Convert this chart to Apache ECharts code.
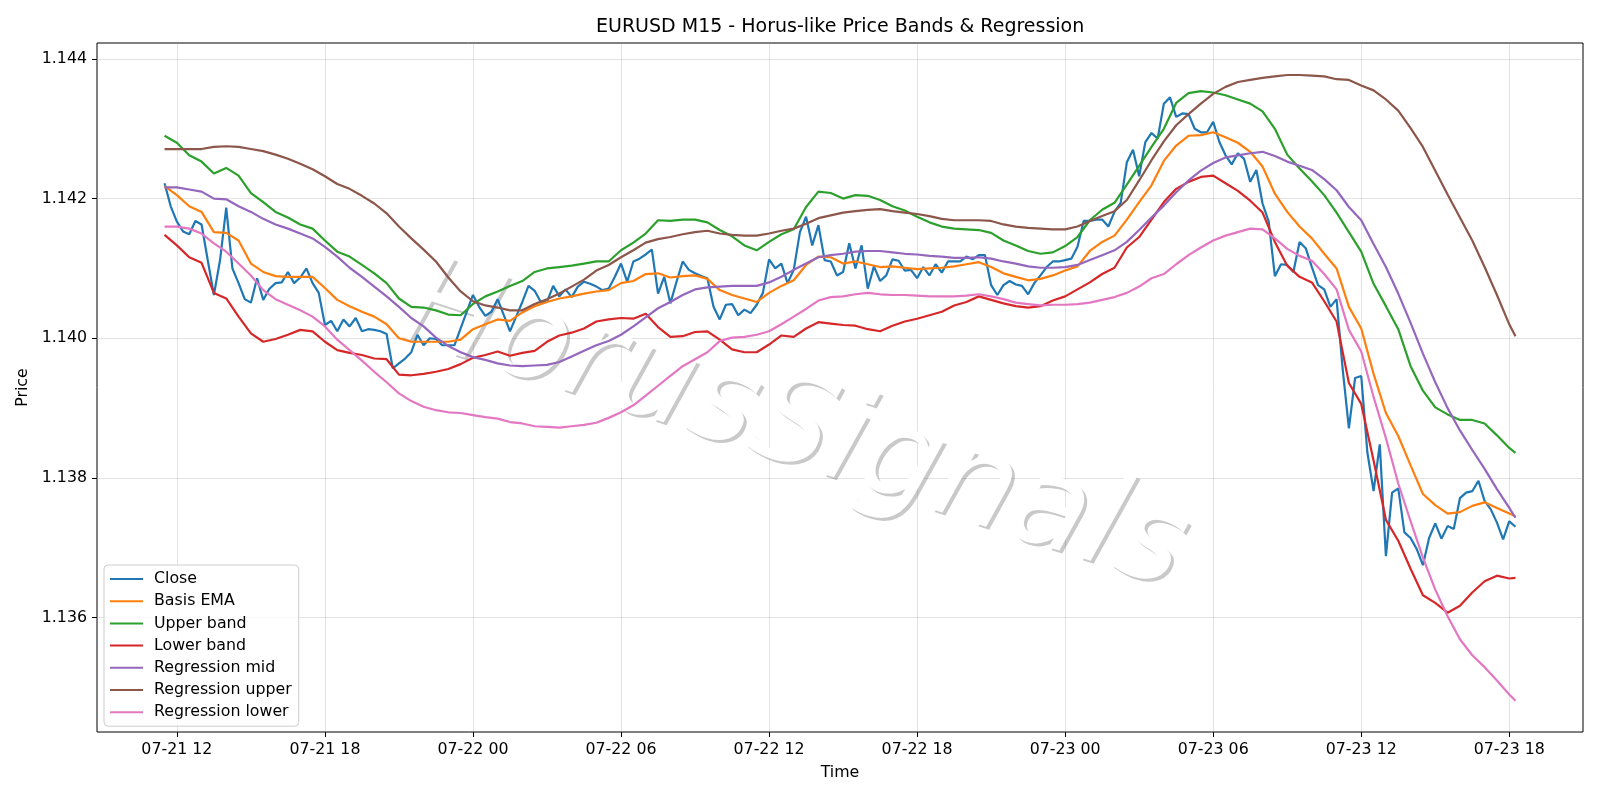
<!DOCTYPE html>
<html>
<head>
<meta charset="utf-8">
<script src="https://cdn.jsdelivr.net/npm/echarts@6/dist/echarts.min.js"></script>
<style>
html,body{margin:0;padding:0;background:#ffffff;}
#chart{width:1600px;height:800px;}
</style>
</head>
<body>
<div id="chart"></div>
<script>
// ---------------- DATA ----------------
// Time is expressed in hours since 2025-07-21 00:00 (M15 bars).
const closeStartHour = 11.5;   // 07-21 11:30
const closeStepHours = 0.25;   // 15 minutes
// Close, every 15 minutes from 07-21 11:30 to 07-23 18:15
const closeValues = [
  // 07-21 11:30 .. 23:45
  1.14222,1.14189,1.14167,1.14153,1.14149,1.14168,1.14163,1.14112,1.14062,1.14112,
  1.14187,1.14100,1.14079,1.14056,1.14051,1.14086,1.14055,1.14071,1.14079,1.14080,
  1.14095,1.14079,1.14087,1.14100,1.14079,1.14065,1.14019,1.14025,1.14010,1.14027,
  1.14017,1.14029,1.14010,1.14013,1.14012,1.14010,1.14006,1.13957,1.13964,1.13971,
  1.13980,1.14005,1.13990,1.14000,1.13999,1.13990,1.13990,1.13990,1.14014,1.14038,
  // 07-22 00:00 .. 23:45
  1.14062,1.14045,1.14032,1.14038,1.14056,1.14033,1.14010,1.14031,1.14052,1.14075,
  1.14068,1.14052,1.14052,1.14075,1.14060,1.14070,1.14059,1.14074,1.14081,1.14078,
  1.14074,1.14069,1.14071,1.14088,1.14107,1.14081,1.14110,1.14114,1.14120,1.14127,
  1.14064,1.14088,1.14050,1.14081,1.14110,1.14098,1.14093,1.14089,1.14086,1.14045,
  1.14027,1.14048,1.14049,1.14033,1.14041,1.14036,1.14048,1.14065,1.14113,1.14100,
  1.14107,1.14079,1.14098,1.14152,1.14174,1.14133,1.14162,1.14112,1.14110,1.14090,
  1.14095,1.14136,1.14100,1.14133,1.14071,1.14103,1.14082,1.14090,1.14113,1.14111,
  1.14097,1.14098,1.14086,1.14102,1.14090,1.14106,1.14094,1.14110,1.14110,1.14110,
  1.14117,1.14113,1.14119,1.14119,1.14076,1.14062,1.14076,1.14082,1.14077,1.14075,
  1.14063,1.14079,1.14090,1.14102,1.14110,1.14110,
  // 07-23 00:00 .. 18:15
  1.14112,1.14114,1.14131,1.14168,1.14168,1.14170,1.14170,1.14160,1.14181,1.14194,
  1.14252,1.14270,1.14232,1.14281,1.14294,1.14286,1.14336,1.14345,1.14317,1.14322,
  1.14321,1.14300,1.14295,1.14295,1.14310,1.14281,1.14262,1.14249,1.14265,1.14257,
  1.14224,1.14241,1.14193,1.14167,1.14089,1.14106,1.14105,1.14095,1.14138,1.14129,
  1.14102,1.14076,1.14070,1.14045,1.14056,1.13955,1.13871,1.13943,1.13946,1.13836,
  1.13781,1.13848,1.13688,1.13779,1.13785,1.13722,1.13714,1.13698,1.13675,1.13714,
  1.13735,1.13713,1.13731,1.13727,1.13771,1.13779,1.13781,1.13796,1.13767,1.13755,
  1.13736,1.13712,1.13738,1.13730
];

// Bands and regression lines, read every 30 minutes (07-21 11:30 .. 07-23 18:00) plus the last bar 18:15
const bandStartHour = 11.5;
const bandStepHours = 0.5;
const bandLastHour = 66.25;

const emaValues = [
  1.14218,1.14205,1.14189,1.14181,1.14152,1.14151,1.14140,1.14107,1.14095,1.14089,
  1.14088,1.14088,1.14088,1.14072,1.14055,1.14046,1.14038,1.14031,1.14020,1.14000,
  1.13995,1.13995,1.13995,1.13995,1.13998,
  1.14013,1.14020,1.14027,1.14025,1.14037,1.14046,1.14052,1.14057,1.14060,1.14064,
  1.14067,1.14069,1.14079,1.14082,1.14092,1.14093,1.14087,1.14089,1.14090,1.14085,
  1.14069,1.14062,1.14057,1.14052,1.14065,1.14075,1.14083,1.14105,1.14117,1.14116,
  1.14107,1.14110,1.14106,1.14102,1.14103,1.14101,1.14099,1.14100,1.14101,1.14103,
  1.14106,1.14109,1.14102,1.14093,1.14088,1.14083,1.14085,1.14090,
  1.14097,1.14103,1.14125,1.14138,1.14147,1.14170,1.14195,1.14219,1.14254,1.14276,
  1.14290,1.14291,1.14295,1.14288,1.14280,1.14267,1.14246,1.14207,1.14181,1.14160,
  1.14143,1.14121,1.14100,1.14045,1.14014,1.13949,1.13893,1.13860,1.13818,1.13777,
  1.13761,1.13749,1.13751,1.13760,1.13765,1.13757,1.13749,1.13745
];

const upperValues = [
  1.14290,1.14280,1.14262,1.14253,1.14236,1.14244,1.14233,1.14208,1.14195,1.14181,
  1.14173,1.14163,1.14157,1.14140,1.14124,1.14117,1.14105,1.14093,1.14079,1.14057,
  1.14045,1.14044,1.14040,1.14034,1.14033,
  1.14049,1.14060,1.14067,1.14075,1.14082,1.14095,1.14100,1.14102,1.14104,1.14107,
  1.14110,1.14110,1.14126,1.14137,1.14150,1.14169,1.14168,1.14170,1.14170,1.14166,
  1.14155,1.14146,1.14133,1.14126,1.14138,1.14149,1.14156,1.14188,1.14210,1.14208,
  1.14200,1.14205,1.14204,1.14198,1.14189,1.14183,1.14174,1.14166,1.14160,1.14157,
  1.14156,1.14155,1.14151,1.14140,1.14133,1.14125,1.14121,1.14123,
  1.14132,1.14145,1.14169,1.14184,1.14194,1.14220,1.14247,1.14274,1.14300,1.14337,
  1.14351,1.14354,1.14352,1.14348,1.14342,1.14336,1.14325,1.14300,1.14263,1.14243,
  1.14225,1.14205,1.14180,1.14152,1.14124,1.14078,1.14046,1.14013,1.13960,1.13925,
  1.13901,1.13891,1.13883,1.13883,1.13878,1.13861,1.13843,1.13836
];

const lowerValues = [
  1.14148,1.14133,1.14116,1.14108,1.14065,1.14057,1.14031,1.14007,1.13995,1.13999,
  1.14005,1.14012,1.14010,1.13995,1.13983,1.13979,1.13976,1.13971,1.13970,1.13948,
  1.13947,1.13949,1.13952,1.13956,1.13963,
  1.13972,1.13976,1.13981,1.13975,1.13979,1.13982,1.13995,1.14004,1.14008,1.14014,
  1.14024,1.14027,1.14029,1.14028,1.14035,1.14016,1.14002,1.14003,1.14009,1.14010,
  1.13998,1.13984,1.13980,1.13980,1.13991,1.14004,1.14002,1.14014,1.14023,1.14021,
  1.14019,1.14018,1.14013,1.14010,1.14018,1.14024,1.14028,1.14033,1.14038,1.14047,
  1.14052,1.14060,1.14055,1.14050,1.14046,1.14044,1.14046,1.14054,
  1.14060,1.14070,1.14080,1.14092,1.14101,1.14130,1.14145,1.14170,1.14195,1.14214,
  1.14224,1.14231,1.14233,1.14222,1.14211,1.14197,1.14180,1.14138,1.14104,1.14088,
  1.14080,1.14053,1.14024,1.13936,1.13906,1.13825,1.13740,1.13710,1.13670,1.13632,
  1.13621,1.13607,1.13617,1.13636,1.13652,1.13660,1.13656,1.13657
];

const regMidValues = [
  1.14216,1.14216,1.14213,1.14210,1.14200,1.14199,1.14189,1.14181,1.14171,1.14163,
  1.14157,1.14150,1.14143,1.14131,1.14117,1.14101,1.14088,1.14074,1.14060,1.14045,
  1.14029,1.14017,1.14001,1.13989,1.13980,
  1.13973,1.13969,1.13964,1.13961,1.13960,1.13961,1.13962,1.13966,1.13974,1.13982,
  1.13990,1.13996,1.14005,1.14017,1.14030,1.14043,1.14052,1.14062,1.14070,1.14073,
  1.14074,1.14075,1.14075,1.14075,1.14080,1.14088,1.14098,1.14107,1.14116,1.14119,
  1.14121,1.14124,1.14125,1.14125,1.14123,1.14121,1.14120,1.14118,1.14117,1.14115,
  1.14115,1.14116,1.14114,1.14110,1.14107,1.14103,1.14101,1.14101,
  1.14102,1.14105,1.14112,1.14119,1.14126,1.14138,1.14155,1.14173,1.14190,1.14209,
  1.14226,1.14240,1.14251,1.14259,1.14262,1.14265,1.14267,1.14261,1.14253,1.14247,
  1.14241,1.14228,1.14212,1.14188,1.14169,1.14135,1.14102,1.14064,1.14022,1.13978,
  1.13937,1.13900,1.13868,1.13840,1.13813,1.13784,1.13757,1.13743
];

const regUpperValues = [
  1.14271,1.14271,1.14271,1.14271,1.14274,1.14275,1.14274,1.14271,1.14268,1.14263,
  1.14257,1.14250,1.14242,1.14232,1.14221,1.14214,1.14204,1.14193,1.14179,1.14160,
  1.14143,1.14127,1.14110,1.14087,1.14067,
  1.14053,1.14047,1.14044,1.14040,1.14040,1.14049,1.14056,1.14064,1.14074,1.14084,
  1.14097,1.14105,1.14116,1.14126,1.14137,1.14142,1.14145,1.14149,1.14152,1.14154,
  1.14150,1.14148,1.14147,1.14147,1.14150,1.14154,1.14157,1.14164,1.14172,1.14176,
  1.14180,1.14182,1.14184,1.14185,1.14182,1.14180,1.14178,1.14175,1.14171,1.14169,
  1.14169,1.14169,1.14168,1.14163,1.14160,1.14158,1.14157,1.14156,
  1.14156,1.14160,1.14168,1.14175,1.14182,1.14198,1.14226,1.14255,1.14282,1.14305,
  1.14321,1.14336,1.14350,1.14360,1.14367,1.14370,1.14373,1.14375,1.14377,1.14377,
  1.14376,1.14375,1.14371,1.14370,1.14362,1.14355,1.14342,1.14326,1.14301,1.14274,
  1.14240,1.14206,1.14173,1.14140,1.14102,1.14062,1.14020,1.14003
];

const regLowerValues = [
  1.14160,1.14160,1.14157,1.14150,1.14136,1.14124,1.14107,1.14090,1.14069,1.14056,
  1.14048,1.14040,1.14031,1.14017,1.13998,1.13983,1.13968,1.13952,1.13937,1.13921,
  1.13910,1.13902,1.13897,1.13894,1.13893,
  1.13890,1.13887,1.13885,1.13880,1.13878,1.13874,1.13873,1.13872,1.13874,1.13876,
  1.13879,1.13886,1.13894,1.13904,1.13918,1.13932,1.13946,1.13960,1.13970,1.13980,
  1.13996,1.14001,1.14002,1.14005,1.14010,1.14020,1.14031,1.14042,1.14054,1.14059,
  1.14060,1.14063,1.14065,1.14063,1.14062,1.14062,1.14061,1.14060,1.14060,1.14060,
  1.14061,1.14063,1.14060,1.14056,1.14051,1.14049,1.14047,1.14048,
  1.14048,1.14049,1.14051,1.14055,1.14059,1.14065,1.14074,1.14086,1.14092,1.14106,
  1.14119,1.14130,1.14140,1.14147,1.14152,1.14157,1.14156,1.14143,1.14128,1.14118,
  1.14111,1.14092,1.14070,1.14012,1.13981,1.13916,1.13857,1.13792,1.13738,1.13686,
  1.13640,1.13602,1.13569,1.13546,1.13529,1.13510,1.13490,1.13481
];

const seriesNames = ['Close','Basis EMA','Upper band','Lower band','Regression mid','Regression upper','Regression lower'];
const seriesColors = ['#1f77b4','#ff7f0e','#2ca02c','#d62728','#9467bd','#8c564b','#e377c2'];

const xTickHours  = [12, 18, 24, 30, 36, 42, 48, 54, 60, 66];
const xTickLabels = ['07-21 12','07-21 18','07-22 00','07-22 06','07-22 12','07-22 18','07-23 00','07-23 06','07-23 12','07-23 18'];
const yTickValues = [1.136, 1.138, 1.140, 1.142, 1.144];

const titleText = 'EURUSD M15 - Horus-like Price Bands & Regression';
const watermarkText = 'HorusSignals';

// ---------------- BUILD ----------------
const closeTimes = closeValues.map((_, i) => closeStartHour + i * closeStepHours);
const bandTimes = emaValues.map((_, i) => i === emaValues.length - 1 ? bandLastHour : bandStartHour + i * bandStepHours);

const pairs = (times, vals) => vals.map((v, i) => [times[i], v]);
const allValues = [closeValues, emaValues, upperValues, lowerValues, regMidValues, regUpperValues, regLowerValues];
const allTimes  = [closeTimes, bandTimes, bandTimes, bandTimes, bandTimes, bandTimes, bandTimes];

// matplotlib-like 5% margins
const xDataMin = closeTimes[0], xDataMax = closeTimes[closeTimes.length - 1];
const xPad = (xDataMax - xDataMin) * 0.05;
const yDataMin = 1.13481, yDataMax = 1.14378;
const yPad = (yDataMax - yDataMin) * 0.05;

const FONT = '"DejaVu Sans", "Liberation Sans", sans-serif';
const FS = 15.8;
const chart = echarts.init(document.getElementById('chart'), null, {renderer: 'canvas'});

const labelOf = h => { const k = xTickHours.indexOf(Math.round(h)); return k >= 0 ? xTickLabels[k] : ''; };
const WM_ROT = -18 * Math.PI / 180;
const WM_X = 793, WM_Y = 430, WM_SIZE = 125;

const option = {
  animation: false,
  backgroundColor: '#ffffff',
  textStyle: {fontFamily: FONT},
  title: {
    text: titleText,
    left: 596, top: 18, padding: 0,
    textStyle: {fontFamily: FONT, fontSize: 19, fontWeight: 'normal', color: '#000'}
  },
  grid: {
    left: 97, top: 43, right: 17, bottom: 68,
    show: true, borderColor: '#000', borderWidth: 1, backgroundColor: 'transparent',
    containLabel: false
  },
  legend: {
    orient: 'vertical',
    left: 104, top: 565,
    padding: [5, 7, 5, 6],
    itemGap: 4.2,
    itemWidth: 33, itemHeight: 2,
    icon: 'rect',
    backgroundColor: 'rgba(255,255,255,0.8)',
    borderColor: '#cccccc', borderWidth: 1, borderRadius: 4,
    textStyle: {fontFamily: FONT, fontSize: FS, color: '#000', lineHeight: 18, padding: [0, 0, 0, 6]},
    data: seriesNames
  },
  xAxis: {
    type: 'value',
    min: xDataMin - xPad, max: xDataMax + xPad,
    name: 'Time', nameLocation: 'middle', nameGap: 33,
    nameTextStyle: {fontFamily: FONT, fontSize: FS, color: '#000'},
    axisLine: {show: false},
    axisTick: {show: true, length: 5, lineStyle: {color: '#000', width: 1}, customValues: xTickHours},
    axisLabel: {color: '#000', fontFamily: FONT, fontSize: FS, margin: 10, customValues: xTickHours, formatter: labelOf},
    splitLine: {show: true, lineStyle: {color: 'rgba(176,176,176,0.35)', width: 1}}
  },
  yAxis: {
    type: 'value',
    min: yDataMin - yPad, max: yDataMax + yPad,
    name: 'Price', nameLocation: 'middle', nameGap: 57,
    nameTextStyle: {fontFamily: FONT, fontSize: FS, color: '#000'},
    axisLine: {show: false},
    axisTick: {show: true, length: 5, lineStyle: {color: '#000', width: 1}, customValues: yTickValues},
    axisLabel: {color: '#000', fontFamily: FONT, fontSize: FS, margin: 10, customValues: yTickValues, formatter: v => v.toFixed(3)},
    splitLine: {show: true, lineStyle: {color: 'rgba(176,176,176,0.35)', width: 1}}
  },
  graphic: [
    {
      type: 'text', x: WM_X + 3, y: WM_Y + 3, rotation: WM_ROT, z: 1, silent: true,
      style: {text: watermarkText, fontFamily: FONT, fontSize: WM_SIZE, fontStyle: 'italic',
              fill: 'rgba(77,77,77,0.3)', align: 'center', verticalAlign: 'middle'}
    },
    {
      type: 'text', x: WM_X, y: WM_Y, rotation: WM_ROT, z: 1, silent: true,
      style: {text: watermarkText, fontFamily: FONT, fontSize: WM_SIZE, fontStyle: 'italic',
              fill: '#ffffff', align: 'center', verticalAlign: 'middle'}
    }
  ],
  series: seriesNames.map((name, k) => ({
    name: name,
    type: 'line',
    z: 3,
    showSymbol: false,
    symbol: 'none',
    color: seriesColors[k],
    lineStyle: {width: 2.2, color: seriesColors[k]},
    data: pairs(allTimes[k], allValues[k])
  }))
};
chart.setOption(option);
</script>
</body>
</html>
